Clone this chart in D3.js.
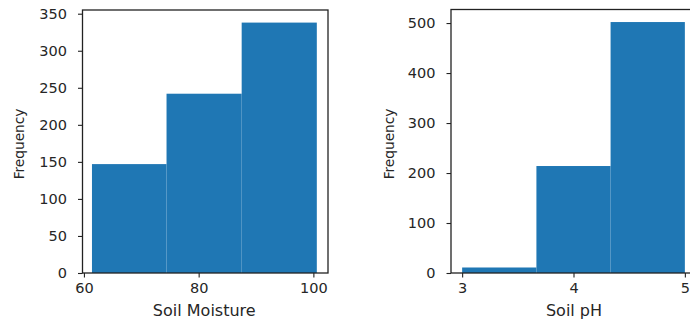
<!DOCTYPE html>
<html>
<head>
<meta charset="utf-8">
<script src="https://cdn.jsdelivr.net/npm/d3@7"></script>
<style>
  html, body { margin: 0; padding: 0; background: #fff; }
  svg { display: block; }
  text { font-family: "DejaVu Sans", sans-serif; fill: #262626; }
</style>
</head>
<body>
<svg id="chart" width="690" height="324"></svg>
<script>
// ---- Data ----
const moistureEdges = [61.4, 74.4, 87.5, 100.6];
const moistureCounts = [147, 242, 338];
const moistureXTicks = [60, 80, 100];
const moistureYTicks = [0, 50, 100, 150, 200, 250, 300, 350];

const phEdges = [3.0, 3.667, 4.333, 5.0];
const phCounts = [11, 214, 502];
const phXTicks = [3, 4, 5];
const phYTicks = [0, 100, 200, 300, 400, 500];

const svg = d3.select("#chart");
const barColor = "#1f77b4";

function panel(opts) {
  const g = svg.append("g");
  const x = d3.scaleLinear().domain(opts.xDomain).range([opts.left, opts.right]);
  const y = d3.scaleLinear().domain(opts.yDomain).range([opts.bottom, opts.top]);

  const bins = opts.counts.map((c, i) => ({ x0: opts.edges[i], x1: opts.edges[i + 1], c }));
  g.selectAll("rect.bar").data(bins).enter().append("rect")
    .attr("class", "bar")
    .attr("x", d => x(d.x0))
    .attr("width", d => x(d.x1) - x(d.x0))
    .attr("y", d => y(d.c))
    .attr("height", d => y(0) - y(d.c))
    .attr("fill", barColor);

  // frame
  g.append("rect")
    .attr("x", opts.left).attr("y", opts.top)
    .attr("width", opts.right - opts.left).attr("height", opts.bottom - opts.top)
    .attr("fill", "none").attr("stroke", "#222").attr("stroke-width", 1.3);

  const xAxis = g.append("g").attr("transform", `translate(0,${opts.bottom})`)
    .call(d3.axisBottom(x).tickValues(opts.xTicks).tickSize(4.5).tickPadding(5).tickFormat(d3.format("d")));
  const yAxis = g.append("g").attr("transform", `translate(${opts.left},0)`)
    .call(d3.axisLeft(y).tickValues(opts.yTicks).tickSize(4.5).tickPadding(11).tickFormat(d3.format("d")));
  [xAxis, yAxis].forEach(a => {
    a.select(".domain").remove();
    a.selectAll(".tick line").attr("stroke", "#222").attr("stroke-width", 1.1);
    a.selectAll(".tick text").attr("font-size", 14.5).attr("fill", "#262626")
      .attr("font-family", "DejaVu Sans, sans-serif");
  });

  g.append("text")
    .attr("x", (opts.left + opts.right) / 2 + opts.xLabelDx)
    .attr("y", 316)
    .attr("text-anchor", "middle")
    .attr("font-size", 16)
    .text(opts.xLabel);

  g.append("text")
    .attr("transform", `translate(${opts.yLabelX},144) rotate(-90)`)
    .attr("text-anchor", "middle")
    .attr("font-size", 13.7)
    .text("Frequency");
}

panel({
  edges: moistureEdges, counts: moistureCounts,
  xTicks: moistureXTicks, yTicks: moistureYTicks,
  xDomain: [59.75, 102.55], yDomain: [0, 355],
  left: 82.5, right: 328, top: 10, bottom: 273,
  xLabel: "Soil Moisture", xLabelDx: -1, yLabelX: 24
});

panel({
  edges: phEdges, counts: phCounts,
  xTicks: phXTicks, yTicks: phYTicks,
  xDomain: [2.9, 5.1], yDomain: [0, 527.1],
  left: 451, right: 696, top: 9.5, bottom: 273,
  xLabel: "Soil pH", xLabelDx: 0.5, yLabelX: 394
});
</script>
</body>
</html>
